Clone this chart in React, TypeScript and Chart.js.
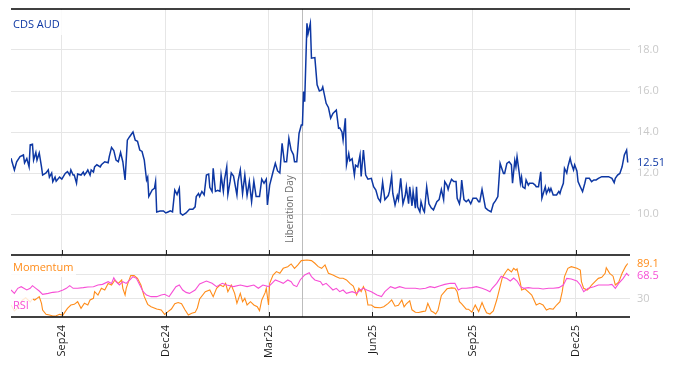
import React, { useEffect, useRef } from "react";
import { Chart, registerables } from "chart.js";

Chart.register(...registerables);

// x values are day offsets from 2024-07-18
const xTickDays = [45, 137, 228, 320, 409, 500];
const xTickLabels = ["Sep24", "Dec24", "Mar25", "Jun25", "Sep25", "Dec25"];
const cdsTicks = [10, 12, 14, 16, 18];
const oscTicks = [30, 70];
const oscTickLabels = ["30", ""];
const liberationDay = 258;
const liberationLabel = "Liberation Day";
const cdsName = "CDS AUD";
const momName = "Momentum";
const rsiName = "RSI";

const cdsDays = [
  0, 3, 5, 8, 11, 12, 14, 16, 17, 19, 20, 22, 23, 25, 27, 28, 31, 33, 34, 36, 37, 39, 40, 43, 45, 48, 50, 52, 53, 55,
  56, 58, 59, 62, 64, 65, 67, 68, 70, 71, 73, 74, 76, 79, 80, 83, 86, 87, 89, 91, 93, 95, 97, 99, 101, 103, 105, 108,
  110, 112, 114, 116, 118, 120, 121, 122, 125, 127, 128, 129, 132, 135, 137, 139, 141, 143, 145, 147, 149, 150, 152,
  155, 158, 161, 163, 164, 166, 167, 169, 171, 173, 175, 176, 178, 179, 181, 183, 185, 186, 188, 189, 191, 192, 194,
  195, 197, 200, 201, 203, 205, 207, 209, 211, 213, 215, 217, 220, 222, 224, 226, 227, 229, 232, 234, 236, 238, 240,
  242, 244, 246, 248, 250, 251, 253, 255, 257, 258, 259, 260, 262, 263, 265, 266, 269, 271, 273, 275, 276, 279, 281,
  283, 285, 288, 290, 291, 293, 294, 296, 297, 299, 300, 302, 304, 305, 307, 309, 310, 312, 314, 316, 319, 321, 323,
  325, 327, 329, 331, 334, 335, 337, 338, 340, 342, 343, 345, 347, 349, 350, 352, 353, 355, 356, 358, 359, 360, 362,
  363, 365, 366, 368, 370, 372, 374, 377, 379, 381, 383, 384, 386, 387, 388, 390, 392, 394, 395, 397, 398, 399, 401,
  403, 405, 407, 409, 412, 414, 415, 417, 419, 420, 422, 425, 427, 429, 431, 433, 434, 436, 437, 439, 441, 443, 444,
  446, 447, 448, 450, 451, 452, 453, 455, 456, 458, 459, 462, 464, 465, 467, 469, 470, 473, 474, 476, 477, 478, 480,
  483, 485, 486, 487, 489, 490, 492, 493, 495, 496, 498, 499, 501, 502, 504, 506, 508, 509, 512, 514, 516, 518, 520,
  523, 526, 529, 532, 534, 535, 537, 539, 541, 543, 545, 546,
];
const cdsValues = [
  12.72, 12.15, 12.55, 12.8, 12.88, 12.49, 12.7, 12.3, 13.37, 13.4, 12.63, 13.0, 12.63, 12.98, 12.3, 11.9, 12.0, 12.15,
  11.8, 12.0, 11.58, 11.8, 11.6, 11.8, 11.7, 11.98, 12.07, 11.9, 12.15, 11.9, 11.9, 11.5, 11.95, 11.9, 12.05, 11.9,
  12.05, 12.15, 11.9, 12.15, 12.05, 12.3, 12.4, 12.3, 12.4, 12.55, 12.5, 12.8, 13.25, 13.1, 12.63, 12.55, 13.0, 12.55,
  11.66, 13.6, 13.77, 14.0, 13.6, 13.55, 13.12, 13.05, 12.63, 11.66, 11.8, 10.85, 11.17, 11.25, 11.58, 10.1, 10.15,
  10.15, 10.05, 10.1, 10.15, 10.1, 11.17, 10.95, 11.25, 10.03, 9.95, 10.05, 10.23, 10.23, 10.35, 10.85, 11.0, 10.85,
  11.1, 10.93, 11.9, 11.95, 11.3, 11.1, 12.23, 11.1, 11.15, 11.1, 11.9, 11.1, 11.66, 12.3, 10.95, 11.6, 12.0, 11.85,
  10.93, 11.6, 12.15, 11.0, 11.9, 10.9, 11.58, 10.6, 11.6, 10.85, 10.85, 11.7, 11.5, 11.7, 10.44, 11.41, 12.06, 12.47,
  12.1, 12.0, 13.45, 12.55, 12.55, 13.69, 13.12, 12.9, 12.55, 12.55, 13.93, 14.34, 14.34, 15.97, 15.48, 19.3, 18.8,
  19.3, 17.6, 17.63, 16.3, 16.0, 16.05, 16.2, 15.4, 15.2, 14.67, 14.9, 15.07, 14.18, 14.2, 14.0, 13.6, 14.67, 12.39,
  12.95, 12.6, 12.7, 11.9, 12.38, 12.3, 12.88, 11.83, 13.12, 11.9, 11.7, 11.74, 11.33, 11.17, 10.77, 10.6, 11.55, 10.7,
  10.9, 11.1, 11.85, 11.0, 10.44, 10.9, 10.7, 11.74, 10.5, 10.9, 11.33, 10.5, 11.33, 10.4, 11.1, 10.28, 11.33, 10.35,
  10.1, 10.6, 10.2, 10.1, 11.33, 10.5, 10.3, 10.2, 10.6, 10.7, 11.2, 10.7, 11.58, 11.4, 11.2, 11.4, 11.69, 11.58,
  11.58, 10.77, 10.5, 10.85, 11.66, 10.7, 10.6, 10.7, 10.5, 10.77, 10.77, 10.6, 10.6, 11.2, 10.6, 10.3, 10.2, 10.1,
  10.5, 10.65, 10.85, 12.47, 12.3, 11.98, 11.98, 12.47, 12.55, 12.4, 11.5, 12.6, 12.3, 12.8, 11.98, 11.5, 11.8, 11.33,
  11.25, 11.66, 11.41, 11.5, 11.5, 11.41, 11.33, 11.33, 12.06, 10.77, 11.33, 11.0, 11.25, 11.1, 11.25, 10.93, 10.93,
  11.1, 11.0, 11.2, 11.5, 12.23, 12.0, 12.3, 12.72, 12.47, 12.15, 12.4, 12.1, 11.58, 11.33, 11.09, 11.5, 11.74, 11.74,
  11.58, 11.66, 11.66, 11.74, 11.82, 11.82, 11.82, 11.74, 11.53, 11.74, 11.9, 11.98, 12.3, 12.88, 13.12, 12.51,
];

const momDays = [
  0, 3, 6, 10, 13, 17, 19, 21, 23, 25, 27, 28, 31, 34, 37, 40, 43, 46, 48, 50, 53, 56, 59, 62, 65, 68, 70, 73, 74, 77,
  80, 83, 86, 89, 92, 95, 98, 99, 101, 102, 104, 106, 109, 112, 115, 118, 121, 124, 129, 133, 136, 139, 142, 145, 148,
  151, 154, 157, 160, 163, 165, 167, 172, 176, 179, 182, 185, 188, 190, 192, 195, 198, 200, 203, 205, 207, 209, 212,
  215, 218, 220, 222, 225, 226, 228, 229, 232, 235, 238, 241, 245, 248, 251, 254, 257, 262, 266, 269, 272, 275, 278,
  281, 285, 288, 291, 294, 297, 300, 303, 306, 308, 310, 312, 314, 316, 319, 322, 327, 330, 334, 337, 340, 343, 346,
  348, 350, 353, 355, 358, 361, 364, 367, 369, 372, 374, 376, 378, 381, 386, 390, 393, 395, 397, 399, 403, 405, 408,
  411, 414, 417, 419, 421, 424, 427, 430, 433, 435, 438, 440, 443, 445, 447, 448, 451, 452, 455, 458, 461, 463, 465,
  468, 471, 474, 477, 480, 483, 486, 488, 490, 493, 496, 501, 504, 505, 507, 510, 512, 514, 517, 520, 523, 526, 527,
  530, 533, 535, 538, 541, 544, 546,
];
const momValues = [
  20, 10, 15, 28, 32, 25, 30, 28.3, 31.1, 33.9, 22.8, 11.7, 4.4, 3.3, 1.6, 2.2, 4.4, 3.3, 8.9, 14.4, 20, 21.1, 25.5,
  14.4, 22.8, 20, 28.3, 31.1, 42.2, 36.6, 47.8, 45, 56, 53.3, 61.6, 56, 61.6, 47.8, 36.6, 47.8, 58.9, 68.9, 68.9, 64.4,
  53.3, 33.9, 21.1, 17.2, 13.3, 11.7, 4.4, 8.9, 13.3, 22, 24, 22, 12, 3.3, 6.1, 7.7, 15, 30, 42.2, 45, 33.9, 47.8,
  53.3, 50.6, 56.1, 42.2, 53.3, 39.5, 22.8, 39.5, 25.5, 31.1, 20, 25.5, 20, 17.2, 10.6, 28.4, 40.6, 47.8, 20, 56.1, 70,
  75.6, 72.8, 81.1, 83.9, 88.4, 81.1, 86.7, 93.9, 95, 93.9, 89.5, 83.9, 81.1, 86.7, 72.8, 70, 67.2, 64.5, 64.5, 61.7,
  56.1, 51.7, 36.7, 47.8, 42.2, 50.6, 42.2, 20, 20, 16.1, 15.5, 17, 22.8, 28.4, 18, 19.5, 28.4, 17, 22, 27, 12, 8, 7.5,
  8.9, 10, 22.8, 10, 8, 5, 11, 36, 47, 48.5, 48, 42, 25.6, 22, 13, 13, 8, 20, 9, 24, 15, 7, 5, 10, 28.3, 50.5, 66, 75,
  80, 75, 81, 78, 80, 56.1, 45, 47, 42, 36.6, 28.3, 20, 22.8, 20, 11.7, 14, 13, 20, 25.5, 42.2, 67.2, 81.1, 83.9, 81.1,
  78.3, 59, 47.8, 45, 48, 53.3, 59, 64.4, 66, 72.8, 82.2, 72.8, 68, 53.3, 58, 72.8, 83.9, 89.1,
];

const rsiDays = [
  0, 3, 6, 9, 14, 17, 19, 22, 25, 28, 33, 37, 42, 46, 49, 52, 55, 59, 64, 68, 73, 77, 81, 86, 89, 91, 93, 96, 99, 102,
  105, 108, 111, 114, 117, 120, 124, 129, 133, 136, 140, 143, 146, 149, 152, 155, 158, 163, 167, 173, 178, 182, 187,
  191, 197, 203, 209, 215, 219, 223, 228, 231, 234, 238, 241, 245, 248, 250, 253, 256, 260, 264, 266, 269, 274, 276,
  279, 282, 285, 288, 291, 294, 297, 302, 306, 309, 312, 315, 319, 324, 328, 331, 336, 340, 344, 349, 353, 358, 362,
  367, 371, 375, 380, 384, 389, 393, 396, 399, 403, 408, 412, 417, 421, 424, 426, 430, 434, 436, 439, 442, 445, 448,
  451, 454, 458, 462, 467, 471, 476, 480, 485, 489, 492, 496, 501, 504, 507, 511, 516, 520, 524, 529, 532, 535, 538,
  542, 545, 547,
];
const rsiValues = [
  45, 39.4, 47.8, 50.5, 45, 47.8, 52.2, 47.8, 43.3, 37.8, 39.4, 41.1, 42.2, 45, 47.8, 52.2, 47.8, 47.8, 48.9, 50, 50.5,
  53.3, 54.4, 58.9, 56, 65.5, 58.9, 53.3, 58.9, 56, 61.6, 67.2, 64.4, 53.3, 42.2, 36.6, 33.9, 33.9, 36.6, 37.8, 33.9,
  42.2, 50.5, 53.3, 45, 41, 39.4, 45, 55, 60, 56.1, 50.6, 56.1, 53.3, 50.6, 53.3, 50.6, 53.3, 47.8, 53.3, 50.6, 56.1,
  61.7, 58.9, 56.1, 61.7, 58.9, 53.3, 50.6, 61.7, 70, 73.9, 67.3, 61.7, 58.9, 53.3, 56.1, 50.6, 45, 47.8, 42.2, 45,
  39.5, 42.2, 39.5, 45, 47.8, 45, 42.2, 36.7, 34, 42.2, 50.5, 47.8, 50.5, 47.8, 47.8, 47.8, 46.7, 47.8, 50.5, 49, 52.2,
  54.4, 56.1, 56.1, 45, 47.8, 47.8, 48.9, 50.5, 47.8, 45, 42.2, 47.8, 56.1, 68, 66, 64, 60, 65, 60, 50.5, 47.8, 48.9,
  47.8, 47.8, 46.7, 47.8, 47.8, 48.9, 53.3, 64.4, 63.3, 60, 53.3, 42.2, 47.8, 50.5, 53.3, 53.3, 53.3, 54.4, 47.8, 56.1,
  64.4, 72.8, 68.5,
];

const FONT = "'Open Sans', 'Noto Sans', sans-serif";
const CDS_COLOR = "#0d37a3";
const MOM_COLOR = "#ff8c1a";
const RSI_COLOR = "#f74fd6";
const GRID = "#e6e6e6";
const TICK_GRAY = "#c9c9c9";

const toPoints = (xs: number[], ys: number[]) => xs.map((x, i) => ({ x, y: ys[i] }));

const noPad = (s: any) => {
  s.paddingTop = 0;
  s.paddingBottom = 0;
  s.paddingLeft = 0;
  s.paddingRight = 0;
};

const decoPlugin = {
  id: "deco",
  beforeDatasetsDraw(chart: any) {
    const { ctx, chartArea: ca, scales } = chart;
    const lx = Math.round(scales.x.getPixelForValue(liberationDay)) + 0.5;
    ctx.save();
    ctx.strokeStyle = "#bcbcbc";
    ctx.lineWidth = 1;
    ctx.beginPath();
    ctx.moveTo(lx, ca.top);
    ctx.lineTo(lx, ca.bottom);
    ctx.stroke();
    ctx.translate(lx - 12, scales.y.bottom - 12);
    ctx.rotate(-Math.PI / 2);
    ctx.font = `10px ${FONT}`;
    ctx.fillStyle = "#6e6e6e";
    ctx.textAlign = "left";
    ctx.textBaseline = "middle";
    ctx.fillText(liberationLabel, 0, 0);
    ctx.restore();
  },
  afterDatasetsDraw(chart: any) {
    const { ctx, chartArea: ca, scales } = chart;
    const y = scales.y;
    const y2 = scales.y2;
    ctx.save();
    ctx.font = `11px ${FONT}`;
    ctx.textBaseline = "middle";
    ctx.textAlign = "left";

    const panelLabel = (text: string, color: string, by: number, bw: number, bh: number, ty: number) => {
      ctx.fillStyle = "rgba(255,255,255,0.82)";
      ctx.fillRect(ca.left, by, bw, bh);
      ctx.fillStyle = color;
      ctx.fillText(text, ca.left + 2, ty);
    };
    panelLabel(cdsName, CDS_COLOR, y.top + 1, 53, 25, y.top + 16);
    panelLabel(momName, MOM_COLOR, y2.top + 3, 65, 19, y2.top + 13);
    panelLabel(rsiName, RSI_COLOR, y2.bottom - 20, 22, 19, y2.bottom - 11);

    const lastLabel = (text: string, color: string, scale: any, v: number) => {
      const py = scale.getPixelForValue(v);
      const w = ctx.measureText(text).width;
      ctx.fillStyle = "#ffffff";
      ctx.fillRect(ca.right + 6, py - 6, w + 2, 12);
      ctx.fillStyle = color;
      ctx.fillText(text, ca.right + 7, py);
    };
    lastLabel(cdsValues[cdsValues.length - 1].toFixed(2), CDS_COLOR, y, cdsValues[cdsValues.length - 1]);
    lastLabel(momValues[momValues.length - 1].toFixed(1), MOM_COLOR, y2, momValues[momValues.length - 1]);
    lastLabel(rsiValues[rsiValues.length - 1].toFixed(1), RSI_COLOR, y2, rsiValues[rsiValues.length - 1]);

    ctx.strokeStyle = "#000000";
    ctx.lineWidth = 1.3;
    [y.top, y.bottom, y2.bottom].forEach((py: number) => {
      ctx.beginPath();
      ctx.moveTo(ca.left, py);
      ctx.lineTo(ca.right, py);
      ctx.stroke();
    });
    ctx.lineWidth = 1;
    ctx.strokeStyle = "#222222";
    xTickDays.forEach((d) => {
      const px = Math.round(scales.x.getPixelForValue(d)) + 0.5;
      [y.bottom, y2.bottom].forEach((py: number) => {
        ctx.beginPath();
        ctx.moveTo(px, py - 5);
        ctx.lineTo(px, py);
        ctx.stroke();
      });
    });
    ctx.restore();
  },
};

export default function App() {
  const ref = useRef<HTMLCanvasElement | null>(null);
  useEffect(() => {
    if (!ref.current) return;
    Chart.defaults.font.family = FONT;
    Chart.defaults.font.size = 11;
    const chart = new Chart(ref.current, {
      type: "line",
      data: {
        datasets: [
          {
            label: cdsName,
            data: toPoints(cdsDays, cdsValues),
            borderColor: CDS_COLOR,
            borderWidth: 1.5,
            pointRadius: 0,
            xAxisID: "x",
            yAxisID: "y",
          },
          {
            label: rsiName,
            data: toPoints(rsiDays, rsiValues),
            borderColor: RSI_COLOR,
            borderWidth: 1.1,
            pointRadius: 0,
            xAxisID: "x",
            yAxisID: "y2",
          },
          {
            label: momName,
            data: toPoints(momDays, momValues),
            borderColor: MOM_COLOR,
            borderWidth: 1.1,
            pointRadius: 0,
            xAxisID: "x",
            yAxisID: "y2",
          },
        ],
      },
      options: {
        animation: false,
        responsive: false,
        maintainAspectRatio: false,
        layout: { padding: { left: 3, top: 1, right: 0, bottom: 0 } },
        plugins: { legend: { display: false }, tooltip: { enabled: false } },
        scales: {
          x: {
            type: "linear",
            position: "bottom",
            min: 0,
            max: 548,
            afterBuildTicks: (s: any) => {
              s.ticks = xTickDays.map((v) => ({ value: v }));
            },
            afterFit: (s: any) => {
              s.height = 41;
              noPad(s);
            },
            ticks: {
              autoSkip: false,
              maxRotation: 90,
              minRotation: 90,
              padding: 8,
              color: "#1a1a1a",
              callback: (_v: any, i: number) => xTickLabels[i],
            },
            grid: { color: GRID, drawTicks: false },
            border: { display: false },
          },
          y: {
            type: "linear",
            position: "right",
            stack: "panels",
            stackWeight: 246,
            min: 8,
            max: 20,
            afterBuildTicks: (s: any) => {
              s.ticks = cdsTicks.map((v) => ({ value: v }));
            },
            afterFit: (s: any) => {
              s.width = 36;
              noPad(s);
            },
            ticks: {
              color: TICK_GRAY,
              padding: 7,
              callback: (v: any) => Number(v).toFixed(1),
            },
            grid: { color: GRID, drawTicks: false },
            border: { display: false },
          },
          y2: {
            type: "linear",
            position: "right",
            stack: "panels",
            stackWeight: 62,
            min: 0,
            max: 103.3,
            afterBuildTicks: (s: any) => {
              s.ticks = oscTicks.map((v) => ({ value: v }));
            },
            afterFit: (s: any) => {
              s.width = 36;
              noPad(s);
            },
            ticks: {
              color: TICK_GRAY,
              padding: 7,
              callback: (_v: any, i: number) => oscTickLabels[i],
            },
            grid: { color: GRID, drawTicks: false },
            border: { display: false },
          },
        },
      },
      plugins: [decoPlugin],
    } as any);
    return () => chart.destroy();
  }, []);
  return (
    <div style={{ width: 658, height: 350 }}>
      <canvas ref={ref} width={658} height={350} style={{ display: "block" }} />
    </div>
  );
}
